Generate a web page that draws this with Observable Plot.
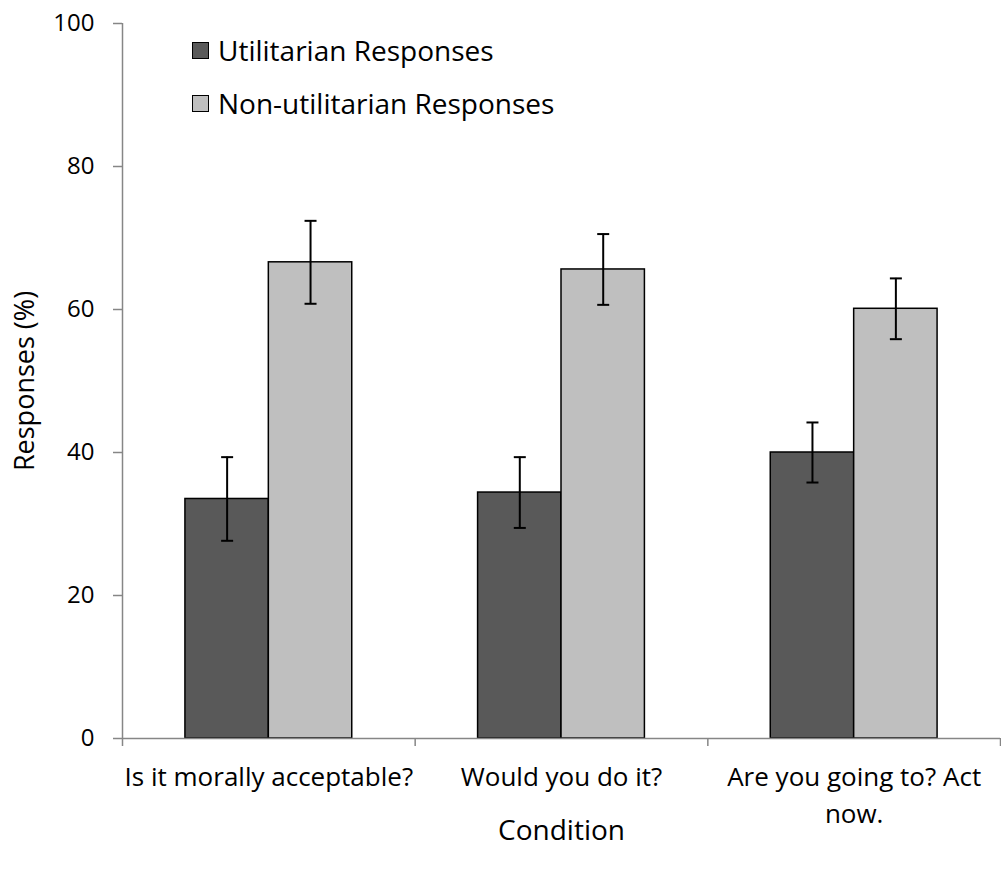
<!DOCTYPE html>
<html>
<head>
<meta charset="utf-8">
<script src="https://cdn.jsdelivr.net/npm/d3@7"></script>
<script src="https://cdn.jsdelivr.net/npm/@observablehq/plot@0.6"></script>
<style>
  body { margin: 0; background: #fff; font-family: "Open Sans", Lato, sans-serif; }
  #wrap { position: relative; width: 1001px; height: 872px; }
  .lg-row { position: absolute; left: 192px; height: 30px; display: flex; align-items: center; font-size: 28px; color: #000; white-space: nowrap; }
  .lg-sw { width: 15px; height: 15px; border: 1.5px solid #000; margin-right: 9px; }
</style>
</head>
<body>
<div id="wrap"></div>
<script>
// ---- data ----
const conditions = ["Is it morally acceptable?", "Would you do it?", "Are you going to? Act\nnow."];
const seriesNames = ["Utilitarian Responses", "Non-utilitarian Responses"];
const utilitarian = [33.5, 34.4, 40.0];
const utilitarianErr = [5.85, 4.95, 4.2];
const nonUtilitarian = [66.6, 65.6, 60.1];
const nonUtilitarianErr = [5.8, 4.95, 4.25];
const yTicks = [0, 20, 40, 60, 80, 100];
const seriesColors = ["#595959", "#bfbfbf"];

// ---- layout constants ----
const BAR_W = 0.285;      // bar width in category units
const GRAY = "#868686";
const FONT = "'Open Sans', Lato, sans-serif";

const values = [utilitarian, nonUtilitarian];
const errs = [utilitarianErr, nonUtilitarianErr];
const rows = [];
conditions.forEach((c, i) => {
  seriesNames.forEach((s, k) => {
    const x1 = i + 0.5 + (k - 1) * BAR_W;
    rows.push({condition: c, series: s, value: values[k][i], err: errs[k][i],
               x1, x2: x1 + BAR_W, cx: x1 + BAR_W / 2});
  });
});

const capSymbol = {
  draw(ctx, size) {
    const r = Math.sqrt(size / Math.PI);
    ctx.moveTo(-r, 0);
    ctx.lineTo(r, 0);
  }
};

const chart = Plot.plot({
  width: 1001,
  height: 872,
  marginLeft: 122,
  marginRight: 1,
  marginTop: 23,
  marginBottom: 134,
  style: {fontFamily: FONT, fontSize: "24px", background: "#fff", color: "#000"},
  x: {domain: [0, conditions.length], axis: null},
  y: {domain: [0, 100], axis: null},
  color: {domain: seriesNames, range: seriesColors},
  marks: [
    Plot.rectY(rows, {x1: "x1", x2: "x2", y1: 0, y2: "value", fill: "series", stroke: "#000", strokeWidth: 1.5}),
    Plot.ruleX([0], {stroke: GRAY, strokeWidth: 1.5}),
    Plot.ruleY([0], {stroke: GRAY, strokeWidth: 1.5}),
    Plot.axisY({ticks: yTicks, tickSize: 9, tickPadding: 19, stroke: GRAY, strokeWidth: 1.5, fill: "#000", fontSize: 24, label: null}),
    Plot.axisX({ticks: d3.range(conditions.length + 1), tickSize: 8, stroke: GRAY, strokeWidth: 1.5, fill: "none", label: null}),
    Plot.ruleX(rows, {x: "cx", y1: d => d.value - d.err, y2: d => d.value + d.err, stroke: "#000", strokeWidth: 2}),
    Plot.dot(rows, {x: "cx", y: d => d.value - d.err, symbol: capSymbol, r: 6, fill: "none", stroke: "#000", strokeWidth: 2}),
    Plot.dot(rows, {x: "cx", y: d => d.value + d.err, symbol: capSymbol, r: 6, fill: "none", stroke: "#000", strokeWidth: 2}),
    Plot.text(conditions, {x: (d, i) => i + 0.5, text: d => d, frameAnchor: "bottom", lineAnchor: "top", textAnchor: "middle", dy: 21, fontSize: 26, lineHeight: 1.42, fill: "#000"}),
    Plot.text(["Condition"], {text: d => d, frameAnchor: "bottom", lineAnchor: "middle", textAnchor: "middle", dy: 93, fontSize: 28, fill: "#000"}),
    Plot.text(["Responses (%)"], {text: d => d, frameAnchor: "left", lineAnchor: "middle", textAnchor: "middle", rotate: -90, dx: -97, fontSize: 27, fill: "#000"})
  ]
});

const wrap = document.getElementById("wrap");
wrap.appendChild(chart);

// legend
const legendCenters = [50, 103];
seriesNames.forEach((s, k) => {
  const row = document.createElement("div");
  row.className = "lg-row";
  row.style.top = (legendCenters[k] - 15) + "px";
  const sw = document.createElement("div");
  sw.className = "lg-sw";
  sw.style.background = seriesColors[k];
  const tx = document.createElement("span");
  tx.textContent = s;
  row.appendChild(sw);
  row.appendChild(tx);
  wrap.appendChild(row);
});
</script>
</body>
</html>
